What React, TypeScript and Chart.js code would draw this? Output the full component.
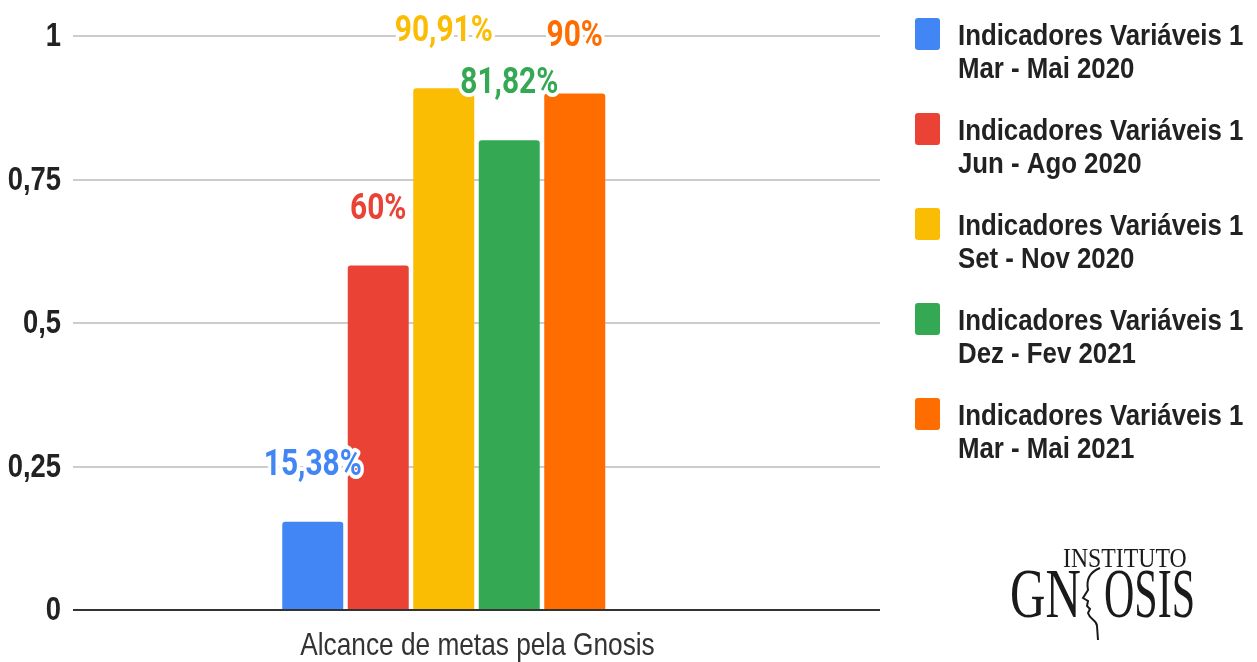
import React, { useEffect, useRef } from "react";
import { Chart, registerables } from "chart.js";

Chart.register(...registerables);

const categories = ["Alcance de metas pela Gnosis"];
const seriesTitles = [
  "Indicadores Variáveis 1",
  "Indicadores Variáveis 1",
  "Indicadores Variáveis 1",
  "Indicadores Variáveis 1",
  "Indicadores Variáveis 1",
];
const seriesPeriods = ["Mar - Mai 2020", "Jun - Ago 2020", "Set - Nov 2020", "Dez - Fev 2021", "Mar - Mai 2021"];
const seriesValues = [0.1538, 0.6, 0.9091, 0.8182, 0.9];
const valueLabels = ["15,38%", "60%", "90,91%", "81,82%", "90%"];
const seriesColors = ["#4285F4", "#EA4335", "#FBBC04", "#34A853", "#FF6D01"];
const yTicks = [0, 0.25, 0.5, 0.75, 1];
const yTickLabels = ["0", "0,25", "0,5", "0,75", "1"];

function drawScaledText(ctx: any, text: string, x: number, y: number, sx: number, align: string) {
  ctx.save();
  ctx.translate(x, y);
  ctx.scale(sx, 1);
  ctx.textAlign = align;
  ctx.fillText(text, 0, 0);
  ctx.restore();
}

const axisTextPlugin = {
  id: "axisText",
  afterDraw(chart: any) {
    const ctx = chart.ctx;
    ctx.save();
    ctx.textBaseline = "alphabetic";
    // y tick labels
    const ys = chart.scales.y;
    ctx.fillStyle = "#222222";
    ctx.font = "bold 33px 'Liberation Sans', Arial";
    yTicks.forEach((v, i) => {
      const py = ys.getPixelForValue(v);
      drawScaledText(ctx, yTickLabels[i], 61, py + 10, 0.83, "right");
    });
    // x category label
    const xs = chart.scales.x;
    ctx.fillStyle = "#333333";
    ctx.font = "32px 'Liberation Sans', Arial";
    categories.forEach((c, i) => {
      const px = xs.getPixelForTick(i);
      drawScaledText(ctx, c, px + 1, 655, 0.82, "center");
    });
    ctx.restore();
  },
};

const valueLabelPlugin = {
  id: "valueLabels",
  afterDatasetsDraw(chart: any) {
    const ctx = chart.ctx;
    ctx.save();
    ctx.font = "bold 36px Roboto";
    ctx.textBaseline = "alphabetic";
    ctx.lineJoin = "round";
    seriesValues.forEach((_v, i) => {
      const el = chart.getDatasetMeta(i).data[0];
      if (!el) return;
      ctx.save();
      ctx.translate(el.x, el.y - 47);
      ctx.scale(0.83, 1);
      ctx.textAlign = "center";
      ctx.lineWidth = 8;
      ctx.strokeStyle = "#ffffff";
      ctx.strokeText(valueLabels[i], 0, 0);
      ctx.fillStyle = seriesColors[i];
      ctx.fillText(valueLabels[i], 0, 0);
      ctx.restore();
    });
    ctx.restore();
  },
};

const legendPlugin = {
  id: "sideLegend",
  afterDraw(chart: any) {
    const ctx = chart.ctx;
    ctx.save();
    const x0 = 915;
    const textX = 958;
    seriesTitles.forEach((title, i) => {
      const base = 45 + i * 95;
      ctx.fillStyle = seriesColors[i];
      ctx.beginPath();
      (ctx as any).roundRect(x0, base - 27, 25, 32, 3);
      ctx.fill();
      ctx.fillStyle = "#222222";
      ctx.font = "bold 30px 'Liberation Sans', Arial";
      ctx.textBaseline = "alphabetic";
      drawScaledText(ctx, title, textX, base, 0.86, "left");
      drawScaledText(ctx, seriesPeriods[i], textX, base + 33, 0.86, "left");
    });
    ctx.restore();
  },
};

const logoPlugin = {
  id: "logo",
  afterDraw(chart: any) {
    const ctx = chart.ctx;
    ctx.save();
    ctx.fillStyle = "#1a1a1a";
    ctx.textBaseline = "alphabetic";
    ctx.font = "27px 'Liberation Serif', 'DejaVu Serif', serif";
    drawScaledText(ctx, "INSTITUTO", 1063, 567, 0.88, "left");
    ctx.font = "70px 'Liberation Serif', 'DejaVu Serif', serif";
    drawScaledText(ctx, "GN", 1010, 617, 0.7, "left");
    drawScaledText(ctx, "OSIS", 1104, 617, 0.6, "left");
    // face profile
    ctx.strokeStyle = "#1a1a1a";
    ctx.lineWidth = 2;
    ctx.beginPath();
    ctx.moveTo(1100, 568);
    ctx.bezierCurveTo(1090, 572, 1086, 580, 1088, 590);
    ctx.lineTo(1083, 598);
    ctx.lineTo(1088, 601);
    ctx.lineTo(1087, 606);
    ctx.lineTo(1090, 609);
    ctx.lineTo(1088, 613);
    ctx.bezierCurveTo(1090, 620, 1097, 620, 1097, 626);
    ctx.lineTo(1098, 640);
    ctx.stroke();
    ctx.restore();
  },
};

export default function App() {
  const canvasRef = useRef<HTMLCanvasElement | null>(null);

  useEffect(() => {
    const canvas = canvasRef.current;
    if (!canvas) return;
    const datasets: any[] = seriesValues.map((v, i) => ({
      label: seriesTitles[i] + " " + seriesPeriods[i],
      data: [v],
      backgroundColor: seriesColors[i],
      borderWidth: 0,
      borderRadius: { topLeft: 3, topRight: 3, bottomLeft: 0, bottomRight: 0 },
      borderSkipped: false,
      categoryPercentage: 0.487,
      barPercentage: 0.931,
    }));
    // empty sixth series slot (as in the source chart's layout)
    datasets.push({
      label: "",
      data: [null],
      backgroundColor: "rgba(0,0,0,0)",
      categoryPercentage: 0.487,
      barPercentage: 0.931,
    });

    const chart = new Chart(canvas, {
      type: "bar",
      data: { labels: categories, datasets },
      options: {
        responsive: false,
        animation: false,
        devicePixelRatio: 1,
        layout: { padding: { top: 36, right: 377, left: 0, bottom: 0 } },
        plugins: {
          legend: { display: false },
          tooltip: { enabled: false },
          title: { display: false },
        },
        scales: {
          x: {
            grid: { display: false },
            border: { display: false },
            ticks: { display: false },
            afterFit: (scale: any) => {
              scale.height = 52;
            },
          },
          y: {
            min: 0,
            max: 1,
            border: { display: false },
            afterBuildTicks: (scale: any) => {
              scale.ticks = yTicks.map((v) => ({ value: v }));
            },
            afterFit: (scale: any) => {
              scale.width = 73;
            },
            grid: {
              drawTicks: false,
              color: (c: any) => (c.tick && c.tick.value === 0 ? "#333333" : "#cccccc"),
              lineWidth: 2,
            },
            ticks: { display: false },
          },
        },
      },
      plugins: [valueLabelPlugin, axisTextPlugin, legendPlugin, logoPlugin],
    });
    return () => chart.destroy();
  }, []);

  return (
    <div style={{ position: "absolute", left: 0, top: 0, width: 1257, height: 662, background: "#ffffff" }}>
      <canvas ref={canvasRef} width={1257} height={662} style={{ display: "block" }} />
    </div>
  );
}
